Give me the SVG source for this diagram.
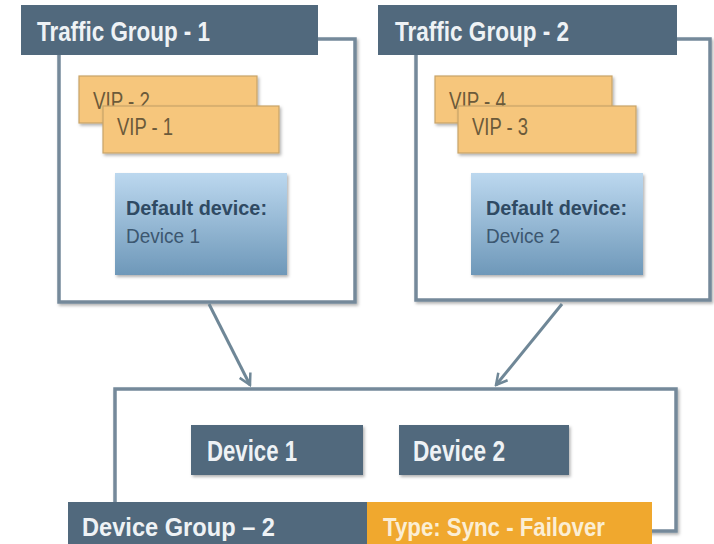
<svg xmlns="http://www.w3.org/2000/svg" width="714" height="544" viewBox="0 0 714 544">
<defs>
<linearGradient id="blueGrad" x1="0" y1="0" x2="0" y2="1">
<stop offset="0" stop-color="#bcd8ef"/>
<stop offset="1" stop-color="#6e98b9"/>
</linearGradient>
<filter id="sh" x="-10%" y="-10%" width="130%" height="130%">
<feDropShadow dx="1.5" dy="2" stdDeviation="1.5" flood-color="#000" flood-opacity="0.3"/>
</filter>
<marker id="arr" viewBox="0 0 14 14" refX="12" refY="7" markerWidth="14" markerHeight="14" markerUnits="userSpaceOnUse" orient="auto">
<polyline points="1,1 12,7 1,13" fill="none" stroke="#6f8797" stroke-width="2.5"/>
</marker>
<style>
.frame{fill:#fff;stroke:#74899a;stroke-width:3.5;filter:url(#sh)}
.hdr{fill:#51697d}
.hdrt{font-family:"Liberation Sans",Arial,sans-serif;font-weight:bold;font-size:27px;fill:#eef2f5}
.vip{fill:#f6c67b;stroke:#c9a468;stroke-width:1.2;filter:url(#sh)}
.vipt{font-family:"Liberation Sans",Arial,sans-serif;font-size:23px;fill:#6b5a3a}
.dd{fill:url(#blueGrad);filter:url(#sh)}
.ddb{font-family:"Liberation Sans",Arial,sans-serif;font-weight:bold;font-size:21px;fill:#2f4a63}
.ddr{font-family:"Liberation Sans",Arial,sans-serif;font-size:21px;fill:#3c5770}
.dev{fill:#51697d;filter:url(#sh)}
.devt{font-family:"Liberation Sans",Arial,sans-serif;font-weight:bold;font-size:29px;fill:#eef2f5}
.bart{font-family:"Liberation Sans",Arial,sans-serif;font-weight:bold;font-size:26px;fill:#eef2f5}
.conn{fill:none;stroke:#6f8797;stroke-width:3}
</style>
</defs>
<rect width="714" height="544" fill="#fff"/>

<g id="traffic-group-1">
<rect class="frame" x="59" y="39" width="296" height="263"/>
<rect class="hdr" x="21" y="5" width="297" height="50"/>
<text class="hdrt" x="37" y="41" textLength="173" lengthAdjust="spacingAndGlyphs">Traffic Group - 1</text>
</g>
<g id="vip-2">
<rect class="vip" x="79" y="76" width="178" height="47"/>
<text class="vipt" x="93" y="109" textLength="57" lengthAdjust="spacingAndGlyphs">VIP - 2</text>
</g>
<g id="vip-1">
<rect class="vip" x="103" y="106" width="176" height="47"/>
<text class="vipt" x="117" y="135" textLength="56" lengthAdjust="spacingAndGlyphs">VIP - 1</text>
</g>
<g id="default-device-1">
<rect class="dd" x="115" y="173" width="172" height="102"/>
<text class="ddb" x="126" y="215" textLength="141" lengthAdjust="spacingAndGlyphs">Default device:</text>
<text class="ddr" x="126" y="243" textLength="74" lengthAdjust="spacingAndGlyphs">Device  1</text>
</g>

<g id="traffic-group-2">
<rect class="frame" x="416" y="39" width="294" height="261"/>
<rect class="hdr" x="378" y="5" width="299" height="50"/>
<text class="hdrt" x="395" y="41" textLength="174" lengthAdjust="spacingAndGlyphs">Traffic Group - 2</text>
</g>
<g id="vip-4">
<rect class="vip" x="435" y="76" width="177" height="47"/>
<text class="vipt" x="449" y="109" textLength="57" lengthAdjust="spacingAndGlyphs">VIP - 4</text>
</g>
<g id="vip-3">
<rect class="vip" x="458" y="106" width="178" height="47"/>
<text class="vipt" x="472" y="135" textLength="56" lengthAdjust="spacingAndGlyphs">VIP - 3</text>
</g>
<g id="default-device-2">
<rect class="dd" x="471" y="173" width="172" height="102"/>
<text class="ddb" x="486" y="215" textLength="141" lengthAdjust="spacingAndGlyphs">Default device:</text>
<text class="ddr" x="486" y="243" textLength="74" lengthAdjust="spacingAndGlyphs">Device  2</text>
</g>

<g id="device-group-2">
<rect class="frame" x="115" y="389" width="561" height="142"/>
<rect x="68" y="502" width="299" height="42" fill="#51697d"/>
<rect x="367" y="502" width="285" height="42" fill="#f0a82e"/>
<text class="bart" x="82" y="536" textLength="193" lengthAdjust="spacingAndGlyphs">Device Group –  2</text>
<text class="bart" x="383" y="536" textLength="222" lengthAdjust="spacingAndGlyphs" style="fill:#fbeed4">Type: Sync - Failover</text>
</g>
<g id="device-1">
<rect class="dev" x="191" y="425" width="172" height="50"/>
<text class="devt" x="207" y="461" textLength="90" lengthAdjust="spacingAndGlyphs">Device 1</text>
</g>
<g id="device-2">
<rect class="dev" x="399" y="425" width="170" height="50"/>
<text class="devt" x="413" y="461" textLength="92" lengthAdjust="spacingAndGlyphs">Device 2</text>
</g>

<g id="connectors">
<line class="conn" x1="209" y1="304" x2="250" y2="385" marker-end="url(#arr)"/>
<line class="conn" x1="562" y1="304" x2="496" y2="385" marker-end="url(#arr)"/>
</g>
</svg>
